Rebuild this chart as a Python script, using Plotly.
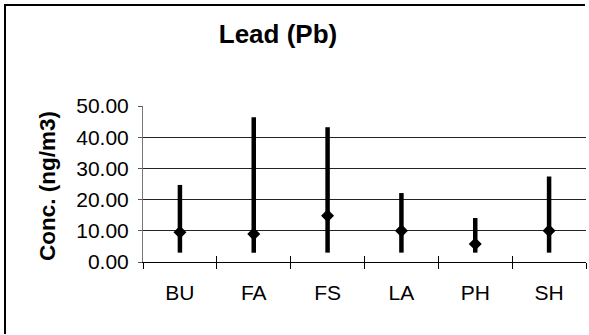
import plotly.graph_objects as go

categories = ["BU", "FA", "FS", "LA", "PH", "SH"]
mins = [3.0, 3.0, 3.0, 3.0, 3.0, 3.0]
maxs = [24.7, 46.4, 43.2, 22.1, 14.1, 27.4]
means = [9.5, 9.0, 14.8, 10.0, 5.8, 10.0]
y_ticks = [0, 10, 20, 30, 40, 50]

xs = list(range(len(categories)))

fig = go.Figure()

lx, ly = [], []
for i in xs:
    lx += [i, i, None]
    ly += [mins[i], maxs[i], None]
fig.add_trace(go.Scatter(x=lx, y=ly, mode="lines",
                         line=dict(color="black", width=4.5),
                         hoverinfo="skip", showlegend=False))
fig.add_trace(go.Scatter(x=xs, y=means, mode="markers",
                         marker=dict(symbol="diamond", size=10, color="black"),
                         showlegend=False))
fig.add_trace(go.Scatter(x=[xs[0]], y=[0], xaxis="x2", mode="markers",
                         marker=dict(opacity=0), showlegend=False, hoverinfo="skip"))

bounds = [i - 0.5 for i in xs] + [xs[-1] + 0.5]
font = "Liberation Sans, Arial, sans-serif"

W, H = 589, 335
ML, MR, MT, MB = 143, 3, 106, 73
pw, ph = W - ML - MR, H - MT - MB


def px_x(p):
    return (p - ML) / pw


def px_y(p):
    return (H - MB - p) / ph


frame_path = "M {:.4f},{:.4f} L {:.4f},{:.4f} L {:.4f},{:.4f}".format(
    px_x(5), px_y(H - 1), px_x(5), px_y(5), px_x(W - 4), px_y(5))

fig.update_layout(
    width=W, height=H,
    margin=dict(l=ML, r=MR, t=MT, b=MB),
    paper_bgcolor="white", plot_bgcolor="white",
    font=dict(family=font, color="black"),
    title=dict(text="<b>Lead (Pb)</b>", x=0.472, xref="container", xanchor="center",
               y=1 - 34 / 335, yref="container", yanchor="middle",
               font=dict(size=26, family=font, color="black")),
    xaxis=dict(range=[-0.5, len(categories) - 0.5], tickvals=xs, ticktext=categories,
               ticks="", showgrid=False, zeroline=False,
               showline=True, linecolor="black", linewidth=1,
               ticklabelstandoff=12,
               tickfont=dict(size=21, family=font, color="black"),
               minor=dict(tickvals=bounds, ticks="outside", ticklen=6,
                          tickcolor="black", tickwidth=1, showgrid=False)),
    xaxis2=dict(range=[-0.5, len(categories) - 0.5], overlaying="x", side="bottom",
                tickvals=bounds, ticks="inside", ticklen=6, tickcolor="black",
                showticklabels=False, showgrid=False, zeroline=False, showline=False),
    yaxis=dict(range=[0, 50], tickvals=y_ticks, tickformat=".2f",
               ticks="outside", ticklen=4, tickcolor="#555",
               ticklabelstandoff=5,
               showgrid=True, gridcolor="#222", gridwidth=1,
               zeroline=False, showline=True, linecolor="#777", linewidth=1,
               tickfont=dict(size=21, family=font, color="black")),
    annotations=[dict(text="<b>Conc. (ng/m3)</b>", textangle=-90,
                      xref="paper", yref="paper",
                      x=px_x(47), y=px_y(186),
                      xanchor="center", yanchor="middle", showarrow=False,
                      font=dict(size=22.5, family=font, color="black"))],
    shapes=[
        dict(type="path", xref="paper", yref="paper", path=frame_path,
             line=dict(color="black", width=2), layer="below"),
    ],
)

fig.write_html("out.html")
